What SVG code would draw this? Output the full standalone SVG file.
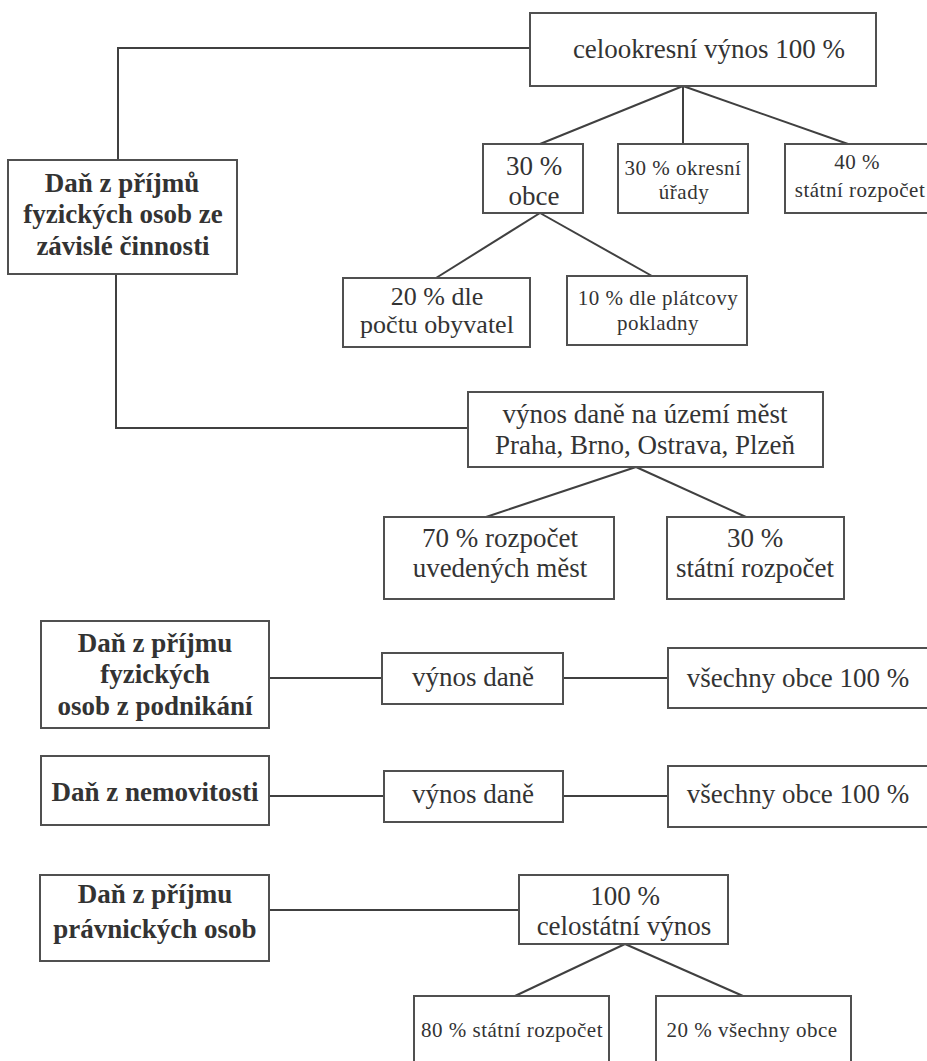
<svg xmlns="http://www.w3.org/2000/svg" width="927" height="1061" viewBox="0 0 927 1061">
<style>
rect{fill:#fff;stroke:#505050;stroke-width:2}
.c{fill:none;stroke:#404040;stroke-width:2}
text{fill:#333;text-anchor:middle;font-family:'Liberation Serif',serif}
.b{font-weight:bold;font-size:27px}
.r{font-size:27px}
.t{font-size:26px}
.s{font-size:21px;letter-spacing:0.5px}
</style>
<rect x="0" y="0" width="927" height="1061" style="fill:#fff;stroke:none"/>
<g id="connectors">
<polyline class="c" points="530,48 118,48 118,160"/>
<polyline class="c" points="116,274 116,428 468,428"/>
<line class="c" x1="683" y1="86" x2="540" y2="144"/>
<line class="c" x1="683" y1="86" x2="683" y2="144"/>
<line class="c" x1="683" y1="86" x2="848" y2="144"/>
<line class="c" x1="540" y1="213" x2="436" y2="278"/>
<line class="c" x1="540" y1="213" x2="652" y2="276"/>
<line class="c" x1="636" y1="467" x2="486" y2="517"/>
<line class="c" x1="636" y1="467" x2="746" y2="517"/>
<line class="c" x1="269" y1="678" x2="382" y2="678"/>
<line class="c" x1="563" y1="678" x2="668" y2="678"/>
<line class="c" x1="269" y1="796" x2="384" y2="796"/>
<line class="c" x1="563" y1="796" x2="668" y2="796"/>
<line class="c" x1="269" y1="910" x2="519" y2="910"/>
<line class="c" x1="625" y1="944" x2="515" y2="996"/>
<line class="c" x1="625" y1="944" x2="743" y2="996"/>
</g>
<g id="celookresni"><rect x="530" y="13" width="346" height="73"/><text font-family="Liberation Serif" class="r" x="709" y="58">celookresní výnos 100 %</text></g>
<g id="dan-zavisle"><rect x="8" y="160" width="229" height="114"/>
<text font-family="Liberation Serif" class="b" x="122" y="192">Daň z příjmů</text>
<text font-family="Liberation Serif" class="b" x="123" y="223">fyzických osob ze</text>
<text font-family="Liberation Serif" class="b" x="123" y="255">závislé činnosti</text></g>
<g id="obce30"><rect x="483" y="144" width="100" height="69"/>
<text font-family="Liberation Serif" class="r" x="534" y="175">30 %</text>
<text font-family="Liberation Serif" class="r" x="534" y="205">obce</text></g>
<g id="okresni30"><rect x="618" y="144" width="130" height="69"/>
<text font-family="Liberation Serif" class="s" x="683" y="175">30 % okresní</text>
<text font-family="Liberation Serif" class="s" x="684" y="199">úřady</text></g>
<g id="statni40"><rect x="785" y="144" width="150" height="69"/>
<text font-family="Liberation Serif" class="s" x="857" y="169">40 %</text>
<text font-family="Liberation Serif" class="s" x="860" y="197">státní rozpočet</text></g>
<g id="obyvatel20"><rect x="343" y="278" width="187" height="69"/>
<text font-family="Liberation Serif" class="t" x="437" y="305">20 % dle</text>
<text font-family="Liberation Serif" class="t" x="437" y="333">počtu obyvatel</text></g>
<g id="pokladny10"><rect x="567" y="276" width="180" height="69"/>
<text font-family="Liberation Serif" class="s" x="658" y="305">10 % dle plátcovy</text>
<text font-family="Liberation Serif" class="s" x="658" y="330">pokladny</text></g>
<g id="uzemi-mest"><rect x="468" y="392" width="355" height="75"/>
<text font-family="Liberation Serif" class="r" x="645" y="423">výnos daně na území měst</text>
<text font-family="Liberation Serif" class="r" x="645" y="454">Praha, Brno, Ostrava, Plzeň</text></g>
<g id="rozpocet70"><rect x="384" y="517" width="230" height="82"/>
<text font-family="Liberation Serif" class="r" x="500" y="547">70 % rozpočet</text>
<text font-family="Liberation Serif" class="r" x="500" y="577">uvedených měst</text></g>
<g id="statni30"><rect x="667" y="517" width="177" height="82"/>
<text font-family="Liberation Serif" class="r" x="755" y="547">30 %</text>
<text font-family="Liberation Serif" class="r" x="755" y="577">státní rozpočet</text></g>
<g id="dan-podnikani"><rect x="41" y="621" width="228" height="107"/>
<text font-family="Liberation Serif" class="b" x="155" y="652">Daň z příjmu</text>
<text font-family="Liberation Serif" class="b" x="155" y="683">fyzických</text>
<text font-family="Liberation Serif" class="b" x="155" y="715">osob z podnikání</text></g>
<g id="vynos1"><rect x="382" y="653" width="181" height="51"/>
<text font-family="Liberation Serif" class="r" x="473" y="686">výnos daně</text></g>
<g id="vsechny1"><rect x="668" y="648" width="265" height="60"/>
<text font-family="Liberation Serif" class="r" x="798" y="687">všechny obce 100 %</text></g>
<g id="dan-nemovitosti"><rect x="41" y="756" width="228" height="69"/>
<text font-family="Liberation Serif" class="b" x="155" y="801">Daň z nemovitosti</text></g>
<g id="vynos2"><rect x="384" y="771" width="179" height="51"/>
<text font-family="Liberation Serif" class="r" x="473" y="803">výnos daně</text></g>
<g id="vsechny2"><rect x="668" y="766" width="265" height="61"/>
<text font-family="Liberation Serif" class="r" x="798" y="803">všechny obce 100 %</text></g>
<g id="dan-pravnicke"><rect x="40" y="875" width="229" height="86"/>
<text font-family="Liberation Serif" class="b" x="155" y="903">Daň z příjmu</text>
<text font-family="Liberation Serif" class="b" x="155" y="938">právnických osob</text></g>
<g id="celostatni"><rect x="519" y="875" width="209" height="69"/>
<text font-family="Liberation Serif" class="r" x="625" y="905">100 %</text>
<text font-family="Liberation Serif" class="r" x="624" y="935">celostátní výnos</text></g>
<g id="statni80"><rect x="414" y="996" width="195" height="80"/>
<text font-family="Liberation Serif" class="s" x="512" y="1037">80 % státní rozpočet</text></g>
<g id="obce20"><rect x="656" y="996" width="195" height="80"/>
<text font-family="Liberation Serif" class="s" x="752" y="1037">20 % všechny obce</text></g>
</svg>
